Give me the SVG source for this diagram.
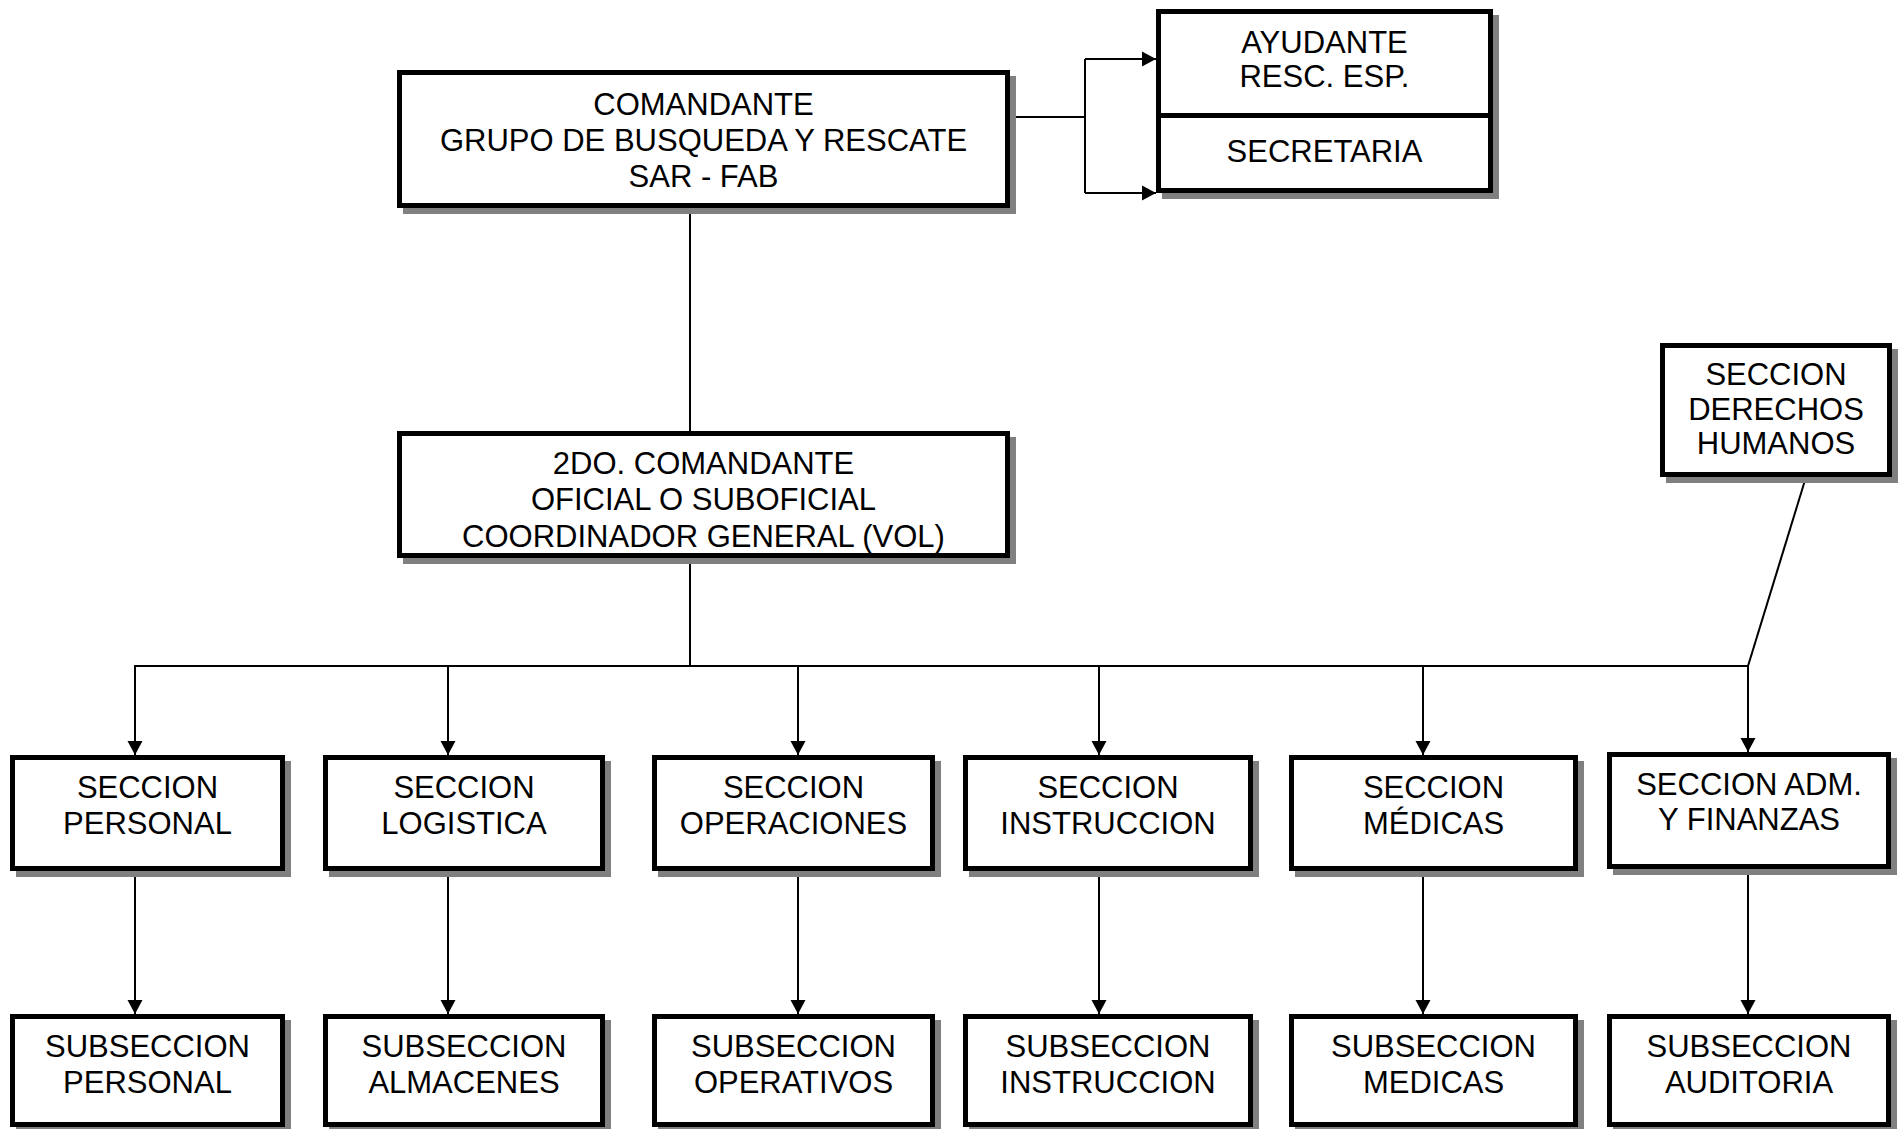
<svg xmlns="http://www.w3.org/2000/svg" width="1898" height="1129" viewBox="0 0 1898 1129">
  <style>
    .shadow { fill: #808080; }
    .box { fill: #ffffff; stroke: #000000; stroke-width: 5; }
    .label { font-family: "Liberation Sans", Arial, sans-serif; font-size: 31px; fill: #000000; text-anchor: middle; }
    .link { fill: none; stroke: #000000; stroke-width: 2; }
  </style>
  <defs>
    <marker id="arrow" markerUnits="userSpaceOnUse" markerWidth="14" markerHeight="16" refX="14" refY="8" orient="auto">
      <path d="M0,0.5 L14,8 L0,15.5 z" fill="#000000"/>
    </marker>
  </defs>
  <rect width="1898" height="1129" fill="#ffffff"/>

  <!-- connectors -->
  <g id="connectors">
    <!-- commander to aide and secretary -->
    <path class="link" d="M1010,117 H1085"/>
    <path class="link" d="M1085,59 V193"/>
    <path class="link" d="M1085,59 H1156" marker-end="url(#arrow)"/>
    <path class="link" d="M1085,193 H1156" marker-end="url(#arrow)"/>
    <!-- commander to deputy -->
    <path class="link" d="M690,208 V431"/>
    <!-- deputy to section bus -->
    <path class="link" d="M690,558 V666"/>
    <path class="link" d="M134,666 H1749"/>
    <!-- human rights link -->
    <path class="link" d="M1806,477 L1748,666"/>
    <!-- bus to sections -->
    <path class="link" d="M135,666 V755" marker-end="url(#arrow)"/>
    <path class="link" d="M448,666 V755" marker-end="url(#arrow)"/>
    <path class="link" d="M798,666 V755" marker-end="url(#arrow)"/>
    <path class="link" d="M1099,666 V755" marker-end="url(#arrow)"/>
    <path class="link" d="M1423,666 V755" marker-end="url(#arrow)"/>
    <path class="link" d="M1748,666 V752" marker-end="url(#arrow)"/>
    <!-- sections to subsections -->
    <path class="link" d="M135,871 V1014" marker-end="url(#arrow)"/>
    <path class="link" d="M448,871 V1014" marker-end="url(#arrow)"/>
    <path class="link" d="M798,871 V1014" marker-end="url(#arrow)"/>
    <path class="link" d="M1099,871 V1014" marker-end="url(#arrow)"/>
    <path class="link" d="M1423,871 V1014" marker-end="url(#arrow)"/>
    <path class="link" d="M1748,869 V1014" marker-end="url(#arrow)"/>
  </g>

  <g id="comandante">
    <rect class="shadow" x="403" y="76" width="613" height="138"/>
    <rect class="box" x="399.5" y="72.5" width="608" height="133"/>
    <text class="label" x="703.5" y="115">COMANDANTE</text>
    <text class="label" x="703.5" y="151">GRUPO DE BUSQUEDA Y RESCATE</text>
    <text class="label" x="703.5" y="187">SAR - FAB</text>
  </g>

  <g id="ayudante">
    <rect class="shadow" x="1162" y="15" width="337" height="112"/>
    <rect class="box" x="1158.5" y="11.5" width="332" height="107"/>
    <text class="label" x="1324.5" y="53">AYUDANTE</text>
    <text class="label" x="1324.5" y="87">RESC. ESP.</text>
  </g>

  <g id="secretaria">
    <rect class="shadow" x="1162" y="119" width="337" height="80"/>
    <rect class="box" x="1158.5" y="115.5" width="332" height="75"/>
    <text class="label" x="1324.5" y="162">SECRETARIA</text>
  </g>

  <g id="segundo-comandante">
    <rect class="shadow" x="403" y="437" width="613" height="127"/>
    <rect class="box" x="399.5" y="433.5" width="608" height="122"/>
    <text class="label" x="703.5" y="474">2DO. COMANDANTE</text>
    <text class="label" x="703.5" y="510">OFICIAL O SUBOFICIAL</text>
    <text class="label" x="703.5" y="547">COORDINADOR GENERAL (VOL)</text>
  </g>

  <g id="derechos-humanos">
    <rect class="shadow" x="1666" y="349" width="232" height="134"/>
    <rect class="box" x="1662.5" y="345.5" width="227" height="129"/>
    <text class="label" x="1776" y="385">SECCION</text>
    <text class="label" x="1776" y="420">DERECHOS</text>
    <text class="label" x="1776" y="454">HUMANOS</text>
  </g>

  <!-- sections -->
  <g id="seccion-personal">
    <rect class="shadow" x="16" y="761" width="275" height="116"/>
    <rect class="box" x="12.5" y="757.5" width="270" height="111"/>
    <text class="label" x="147.5" y="798">SECCION</text>
    <text class="label" x="147.5" y="834">PERSONAL</text>
  </g>

  <g id="seccion-logistica">
    <rect class="shadow" x="329" y="761" width="282" height="116"/>
    <rect class="box" x="325.5" y="757.5" width="277" height="111"/>
    <text class="label" x="464" y="798">SECCION</text>
    <text class="label" x="464" y="834">LOGISTICA</text>
  </g>

  <g id="seccion-operaciones">
    <rect class="shadow" x="658" y="761" width="283" height="116"/>
    <rect class="box" x="654.5" y="757.5" width="278" height="111"/>
    <text class="label" x="793.5" y="798">SECCION</text>
    <text class="label" x="793.5" y="834">OPERACIONES</text>
  </g>

  <g id="seccion-instruccion">
    <rect class="shadow" x="969" y="761" width="290" height="116"/>
    <rect class="box" x="965.5" y="757.5" width="285" height="111"/>
    <text class="label" x="1108" y="798">SECCION</text>
    <text class="label" x="1108" y="834">INSTRUCCION</text>
  </g>

  <g id="seccion-medicas">
    <rect class="shadow" x="1295" y="761" width="289" height="116"/>
    <rect class="box" x="1291.5" y="757.5" width="284" height="111"/>
    <text class="label" x="1433.5" y="798">SECCION</text>
    <text class="label" x="1433.5" y="834">MÉDICAS</text>
  </g>

  <g id="seccion-adm-finanzas">
    <rect class="shadow" x="1613" y="758" width="284" height="117"/>
    <rect class="box" x="1609.5" y="754.5" width="279" height="112"/>
    <text class="label" x="1749" y="795">SECCION ADM.</text>
    <text class="label" x="1749" y="830">Y FINANZAS</text>
  </g>

  <!-- subsections -->
  <g id="subseccion-personal">
    <rect class="shadow" x="16" y="1020" width="275" height="113"/>
    <rect class="box" x="12.5" y="1016.5" width="270" height="108"/>
    <text class="label" x="147.5" y="1057">SUBSECCION</text>
    <text class="label" x="147.5" y="1093">PERSONAL</text>
  </g>

  <g id="subseccion-almacenes">
    <rect class="shadow" x="329" y="1020" width="282" height="113"/>
    <rect class="box" x="325.5" y="1016.5" width="277" height="108"/>
    <text class="label" x="464" y="1057">SUBSECCION</text>
    <text class="label" x="464" y="1093">ALMACENES</text>
  </g>

  <g id="subseccion-operativos">
    <rect class="shadow" x="658" y="1020" width="283" height="113"/>
    <rect class="box" x="654.5" y="1016.5" width="278" height="108"/>
    <text class="label" x="793.5" y="1057">SUBSECCION</text>
    <text class="label" x="793.5" y="1093">OPERATIVOS</text>
  </g>

  <g id="subseccion-instruccion">
    <rect class="shadow" x="969" y="1020" width="290" height="113"/>
    <rect class="box" x="965.5" y="1016.5" width="285" height="108"/>
    <text class="label" x="1108" y="1057">SUBSECCION</text>
    <text class="label" x="1108" y="1093">INSTRUCCION</text>
  </g>

  <g id="subseccion-medicas">
    <rect class="shadow" x="1295" y="1020" width="289" height="113"/>
    <rect class="box" x="1291.5" y="1016.5" width="284" height="108"/>
    <text class="label" x="1433.5" y="1057">SUBSECCION</text>
    <text class="label" x="1433.5" y="1093">MEDICAS</text>
  </g>

  <g id="subseccion-auditoria">
    <rect class="shadow" x="1613" y="1020" width="284" height="113"/>
    <rect class="box" x="1609.5" y="1016.5" width="279" height="108"/>
    <text class="label" x="1749" y="1057">SUBSECCION</text>
    <text class="label" x="1749" y="1093">AUDITORIA</text>
  </g>
</svg>
